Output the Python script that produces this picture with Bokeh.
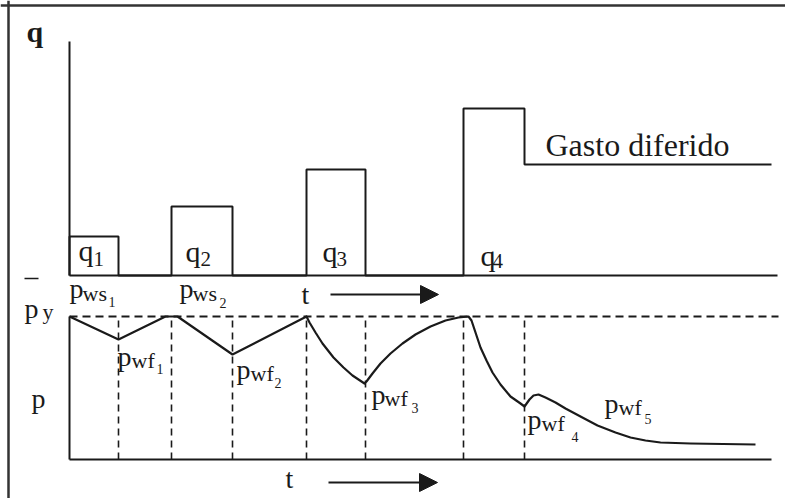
from bokeh.plotting import figure
from bokeh.models import Range1d, Label, Arrow, NormalHead, Span
from bokeh.embed import file_html
from bokeh.resources import INLINE

# ---------------- data (schematic units: time from t=0, rate, pressure) ----------------
rate_change_t = [0, 49, 102, 163, 237, 296, 394, 455]      # times where rate changes
rate_values = [39, 0, 69, 0, 106, 0, 167, 111]            # rate after each change
rate_end_t = 702                                          # end of deferred rate
rate_axis_top = 234
rate_labels = ["1", "2", "3", "4"]

p_avg = 143                                               # average reservoir pressure
pressure_t = [0, 49, 96, 108, 163, 237, 240, 246, 253, 264, 274, 283, 295,
              297, 303, 311, 321, 333, 346, 361, 376, 389, 399,
              402, 406, 411, 417, 423, 431, 441, 451, 455,
              460, 464, 469, 476, 486, 496, 511, 528, 546, 561, 576, 591, 621, 686]
pressure_p = [143, 120, 143, 143, 105, 143, 137, 127, 116, 102, 92, 84, 76,
              78, 86, 96, 106, 116, 125, 133, 139, 142, 143,
              139, 127, 112, 99, 87, 75, 63, 56, 53,
              60, 64, 65, 62, 57, 51, 43, 34, 27, 22, 19, 17, 16, 15]
time_axis_end = 702

# ---------------- figure ----------------
INK = "#1a1a1a"
FONT = "Liberation Serif"

p = figure(width=785, height=498, x_range=Range1d(0, 785), y_range=Range1d(498, 0),
           x_axis_location=None, y_axis_location=None, toolbar_location=None,
           output_backend="svg", min_border=0, outline_line_color=None,
           background_fill_color="white", border_fill_color="white")
p.grid.grid_line_color = None
p.extra_x_ranges = {"time": Range1d(-69, 716)}
p.extra_y_ranges = {"rate": Range1d(-223, 275), "pres": Range1d(-39, 459)}

# frame (top and left edges)
p.add_layout(Span(location=5, dimension="width", line_color="#333333", line_width=2.5))
p.add_layout(Span(location=8, dimension="height", line_color="#333333", line_width=2.5))

# ---- rate panel ----
xs, ys = [0], [0]
prev = 0
for t, q in zip(rate_change_t, rate_values):
    xs += [t, t]
    ys += [prev, q]
    prev = q
xs.append(rate_end_t)
ys.append(rate_values[-1])
p.line(xs, ys, x_range_name="time", y_range_name="rate", line_color=INK, line_width=2)
p.line([0, 0], [0, rate_axis_top], x_range_name="time", y_range_name="rate", line_color=INK, line_width=2)
p.line([0, 708], [0, 0], x_range_name="time", y_range_name="rate", line_color=INK, line_width=2)

# ---- pressure panel ----
p.line([0, 709], [p_avg, p_avg], x_range_name="time", y_range_name="pres",
       line_color=INK, line_width=1.8, line_dash="8 5")
for t in rate_change_t[1:]:
    p.line([t, t], [0, p_avg], x_range_name="time", y_range_name="pres",
           line_color=INK, line_width=1.6, line_dash="7 5")
p.line([0, 0], [0, p_avg], x_range_name="time", y_range_name="pres", line_color=INK, line_width=2)
p.line([0, time_axis_end], [0, 0], x_range_name="time", y_range_name="pres", line_color=INK, line_width=2)
p.line(pressure_t, pressure_p, x_range_name="time", y_range_name="pres",
       line_color=INK, line_width=2.2, line_join="round")


# ---- labels (image coordinates: x left, y baseline) ----
def lab(x, y, text, size, bold=False):
    p.add_layout(Label(x=x, y=y - 0.3 * size, text=text, text_font=FONT, text_font_size=f"{size}px",
                       text_baseline="alphabetic", text_align="left", text_color=INK,
                       text_font_style="bold" if bold else "normal"))


lab(26, 40, "q", 30, bold=True)
lab(545, 154, "Gasto diferido", 32)

q_pos = [(78, 259, 93, 265), (185, 260, 200, 265), (322, 260, 336, 265), (480, 264, 492, 267)]
for (x0, b0, x1, b1), s in zip(q_pos, rate_labels):
    lab(x0, b0, "q", 30)
    lab(x1, b1, s, 21)

# p-bar y
p.line([24, 38], [278, 278], line_color=INK, line_width=1.6)
lab(24, 316, "p", 28)
lab(42, 318, "y", 22)
lab(31, 406, "p", 28)

plabels = [
    (69, 296, 82, 300, "ws", 108, 306, "1"),
    (179, 296, 192, 300, "ws", 219, 307, "2"),
    (117, 364, 131, 367, "wf", 156, 373, "1"),
    (236, 377, 250, 380, "wf", 274, 387, "2"),
    (371, 402, 384, 405, "wf", 411, 412, "3"),
    (527, 427, 541, 430, "wf", 571, 441, "4"),
    (604, 411, 618, 414, "wf", 644, 423, "5"),
]
for x0, b0, x1, b1, s1, x2, b2, s2 in plabels:
    lab(x0, b0, "p", 28)
    lab(x1, b1, s1, 22)
    lab(x2, b2, s2, 14)

# time labels & arrows
lab(301, 302, "t", 28)
lab(285, 486, "t", 28)
for (xa, xb, ya) in [(330, 438, 294), (328, 437, 482)]:
    p.add_layout(Arrow(x_start=xa, y_start=ya, x_end=xb, y_end=ya, line_color=INK, line_width=2,
                       end=NormalHead(size=18, fill_color=INK, line_color=INK)))

open("out.html", "w").write(file_html(p, INLINE))
